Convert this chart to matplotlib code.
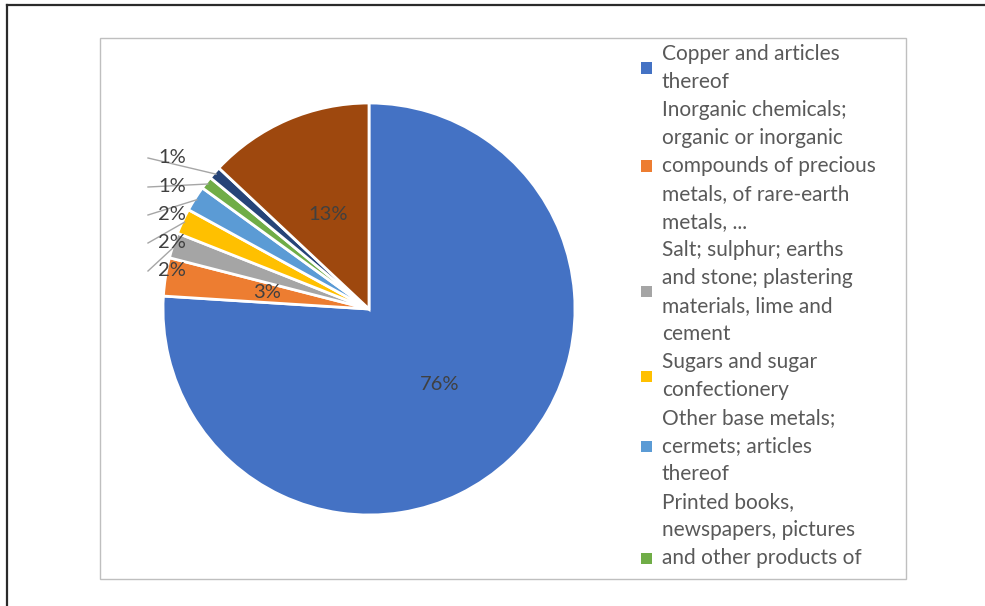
import matplotlib
matplotlib.use('Agg')
import numpy as np
import matplotlib.pyplot as plt
from matplotlib.lines import Line2D
from matplotlib.patches import Rectangle

# export shares by product group
categories = [
    'Copper and articles\nthereof',
    'Inorganic chemicals;\norganic or inorganic\ncompounds of precious\nmetals, of rare-earth\nmetals, ...',
    'Salt; sulphur; earths\nand stone; plastering\nmaterials, lime and\ncement',
    'Sugars and sugar\nconfectionery',
    'Other base metals;\ncermets; articles\nthereof',
    'Printed books,\nnewspapers, pictures\nand other products of\nthe printing industry;\n...',
    'Ores, slag and ash',
    'Others',
]
shares = [76, 3, 2, 2, 2, 1, 1, 13]
colors = ['#4472c4', '#ed7d31', '#a5a5a5', '#ffc000',
          '#5b9bd5', '#70ad47', '#264478', '#9e480e']

plt.rcParams['font.family'] = ['Lato', 'DejaVu Sans']

W, H = 985, 606
fig = plt.figure(figsize=(W / 100, H / 100), dpi=100)


def fx(x):
    return x / W


def fy(y):
    return 1 - y / H


# frame lines and chart area
box_top, box_bottom = 38, 579
fig.add_artist(Line2D([fx(7), fx(7)], [fy(5), 0], color='#2b2b2b', lw=1.6))
fig.add_artist(Line2D([fx(7), 1], [fy(5), fy(5)], color='#2b2b2b', lw=1.6))
fig.add_artist(Rectangle((fx(100), fy(box_bottom)), fx(906) - fx(100),
                         fy(box_top) - fy(box_bottom),
                         transform=fig.transFigure, fill=False,
                         ec='#bfbfbf', lw=1))

# pie
cx, cy, r = 369, 309, 206
ax = fig.add_axes([fx(cx - r), fy(cy + r), 2 * r / W, 2 * r / H])
wedges, _ = ax.pie(shares, colors=colors, startangle=90, counterclock=False,
                   wedgeprops=dict(edgecolor='white', linewidth=2))
ax.set_xlim(-1, 1)
ax.set_ylim(-1, 1)
ax.axis('off')

label_color = '#404040'
outer_y = [271, 243, 215, 187, 158]  # stacked labels for the thin slices
k = 0
for w, s in zip(wedges, shares):
    mid = np.deg2rad((w.theta1 + w.theta2) / 2)
    if s >= 3:
        ax.text(0.5 * np.cos(mid), 0.5 * np.sin(mid), f'{s}%',
                ha='center', va='center', fontsize=14.5, color=label_color)
    else:
        ly = outer_y[k]
        k += 1
        ex = cx + 0.99 * r * np.cos(mid)
        ey = cy - 0.99 * r * np.sin(mid)
        fig.add_artist(Line2D([fx(148), fx(ex)], [fy(ly), fy(ey)],
                              color='#a6a6a6', lw=1))
        fig.text(fx(172), fy(ly), f'{s}%', ha='center', va='center',
                 fontsize=14.5, color=label_color)

# legend: rows that fall outside the chart area are dropped
line_h = 28
first_y = 54
row = 0
for name, c in zip(categories, colors):
    lines = name.split('\n')
    mid_y = first_y + line_h * (row + (len(lines) - 1) / 2)
    if mid_y + 10 < box_bottom:
        fig.add_artist(Rectangle((fx(641), fy(mid_y + 5.5)), 11 / W, 11 / H,
                                 transform=fig.transFigure, fc=c, ec='none'))
    for i, t in enumerate(lines):
        y = first_y + line_h * (row + i)
        if y + 12 < box_bottom:
            fig.text(fx(662), fy(y), t, ha='left', va='center',
                     fontsize=15, color='#595959')
    row += len(lines)

fig.savefig('out.png', dpi=100)
